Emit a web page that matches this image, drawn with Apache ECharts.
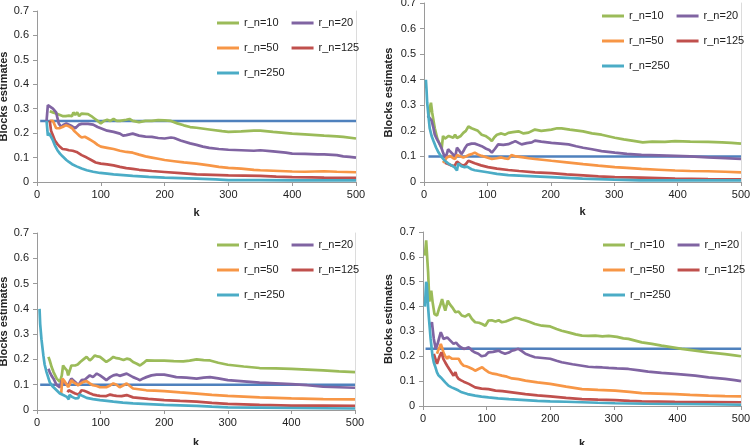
<!DOCTYPE html>
<html>
<head>
<meta charset="utf-8">
<title>Blocks estimates</title>
<script src="https://cdn.jsdelivr.net/npm/echarts@6/dist/echarts.min.js"></script>
<style>
  html, body { margin: 0; padding: 0; background: #fff; }
  #chart { width: 750px; height: 445px; }
</style>
</head>
<body>
<div id="chart"></div>
<script>
// four panels, each: [k, estimate] pairs

const seriesNames = ['r_n=10', 'r_n=20', 'r_n=50', 'r_n=125', 'r_n=250'];
const xTicks = [0, 100, 200, 300, 400, 500];
const yTicks = [0, 0.1, 0.2, 0.3, 0.4, 0.5, 0.6, 0.7];

// horizontal reference line of each panel
const trueLevel = [0.25, 0.1, 0.1, 0.23];
const trueStartK = [5, 7, 5, 4];
const trueEndK = 500;

// --- panel 1 (top left)
const p1_rn10 = [[20,0.29],[25,0.285],[30,0.28],[35,0.275],[40,0.27],[45,0.27],[50,0.272],[55,0.27],[57,0.285],[60,0.275],[63,0.285],[66,0.27],[70,0.28],[80,0.278],[85,0.27],[90,0.26],[95,0.25],[100,0.24],[105,0.25],[110,0.255],[115,0.25],[120,0.258],[125,0.25],[130,0.25],[140,0.255],[145,0.258],[150,0.25],[160,0.245],[170,0.25],[180,0.25],[190,0.253],[200,0.252],[210,0.25],[220,0.24],[230,0.232],[240,0.225],[250,0.222],[270,0.215],[290,0.208],[300,0.205],[320,0.207],[340,0.21],[350,0.21],[370,0.205],[400,0.198],[420,0.195],[450,0.19],[470,0.187],[480,0.185],[500,0.178]];
const p1_rn20 = [[15,0.25],[17,0.315],[20,0.31],[25,0.3],[30,0.285],[32,0.28],[34,0.24],[38,0.225],[42,0.235],[46,0.24],[50,0.235],[55,0.228],[60,0.22],[63,0.218],[66,0.235],[70,0.238],[80,0.238],[88,0.235],[95,0.225],[100,0.22],[110,0.21],[120,0.205],[130,0.198],[135,0.19],[140,0.192],[150,0.198],[160,0.19],[170,0.186],[180,0.185],[190,0.18],[200,0.178],[210,0.182],[215,0.18],[225,0.17],[240,0.158],[250,0.152],[260,0.145],[270,0.14],[285,0.135],[300,0.132],[320,0.13],[340,0.128],[350,0.13],[370,0.125],[390,0.12],[400,0.116],[420,0.115],[440,0.113],[450,0.113],[470,0.11],[480,0.105],[490,0.103],[500,0.1]];
const p1_rn50 = [[20,0.25],[25,0.25],[28,0.25],[30,0.22],[35,0.22],[40,0.225],[45,0.232],[50,0.228],[55,0.22],[58,0.21],[62,0.2],[66,0.19],[70,0.182],[75,0.185],[80,0.178],[85,0.17],[90,0.162],[95,0.152],[100,0.145],[110,0.14],[120,0.135],[130,0.128],[140,0.123],[150,0.12],[160,0.112],[170,0.105],[180,0.1],[190,0.095],[200,0.09],[215,0.085],[230,0.08],[250,0.075],[270,0.068],[285,0.062],[300,0.058],[320,0.055],[340,0.05],[350,0.048],[370,0.046],[400,0.043],[420,0.042],[450,0.044],[470,0.042],[500,0.04]];
const p1_rn125 = [[20,0.25],[22,0.21],[25,0.19],[28,0.17],[32,0.155],[36,0.144],[40,0.135],[43,0.14],[46,0.133],[50,0.13],[52,0.137],[56,0.128],[62,0.123],[70,0.11],[78,0.1],[85,0.09],[92,0.08],[100,0.075],[110,0.072],[120,0.068],[130,0.062],[140,0.057],[150,0.054],[160,0.05],[180,0.045],[200,0.041],[225,0.036],[250,0.031],[275,0.029],[300,0.027],[325,0.026],[350,0.025],[375,0.022],[400,0.02],[430,0.019],[450,0.018],[500,0.017]];
const p1_rn250 = [[15,0.25],[17,0.19],[19,0.2],[21,0.19],[23,0.195],[25,0.17],[28,0.15],[32,0.13],[36,0.116],[40,0.105],[46,0.09],[50,0.082],[55,0.073],[62,0.064],[70,0.055],[78,0.048],[88,0.042],[99,0.037],[110,0.034],[120,0.031],[135,0.028],[150,0.025],[175,0.021],[200,0.018],[225,0.016],[250,0.014],[280,0.011],[300,0.008],[350,0.008],[400,0.007],[450,0.007],[500,0.007]];

// --- panel 2 (top right)
const p2_rn10 = [[7,0.25],[9,0.29],[11,0.31],[13,0.27],[15,0.24],[17,0.21],[21,0.17],[25,0.147],[28,0.134],[30,0.18],[33,0.17],[36,0.166],[39,0.18],[42,0.175],[46,0.173],[49,0.185],[52,0.172],[54,0.166],[58,0.18],[62,0.192],[66,0.2],[70,0.217],[75,0.21],[80,0.205],[85,0.2],[91,0.185],[97,0.18],[103,0.17],[107,0.16],[111,0.175],[115,0.185],[122,0.19],[128,0.185],[133,0.192],[140,0.195],[149,0.198],[157,0.19],[165,0.193],[175,0.205],[185,0.2],[201,0.205],[210,0.21],[217,0.21],[230,0.205],[251,0.198],[265,0.19],[280,0.185],[301,0.173],[315,0.167],[333,0.16],[345,0.155],[360,0.158],[380,0.157],[396,0.16],[420,0.158],[448,0.157],[470,0.155],[485,0.153],[500,0.15]];
const p2_rn20 = [[6,0.26],[9,0.25],[12,0.24],[15,0.21],[17,0.185],[21,0.165],[25,0.147],[28,0.13],[30,0.115],[33,0.096],[36,0.11],[38,0.128],[41,0.12],[44,0.115],[47,0.105],[49,0.096],[52,0.134],[55,0.125],[59,0.109],[62,0.12],[65,0.134],[68,0.145],[70,0.147],[75,0.15],[80,0.15],[86,0.145],[91,0.14],[98,0.13],[103,0.125],[107,0.115],[112,0.13],[117,0.147],[125,0.145],[133,0.148],[140,0.155],[144,0.16],[150,0.152],[154,0.147],[162,0.152],[170,0.155],[175,0.162],[185,0.158],[201,0.153],[215,0.15],[228,0.147],[240,0.14],[251,0.134],[265,0.128],[280,0.121],[301,0.115],[320,0.11],[343,0.106],[370,0.104],[396,0.102],[420,0.1],[448,0.096],[475,0.093],[500,0.09]];
const p2_rn50 = [[30,0.075],[33,0.085],[36,0.096],[41,0.102],[45,0.095],[49,0.09],[52,0.105],[54,0.109],[58,0.1],[62,0.096],[66,0.1],[70,0.105],[75,0.109],[80,0.115],[85,0.108],[91,0.102],[97,0.098],[102,0.094],[107,0.09],[115,0.093],[122,0.096],[128,0.092],[133,0.09],[138,0.105],[145,0.1],[154,0.097],[165,0.093],[175,0.09],[190,0.086],[201,0.083],[225,0.077],[251,0.07],[275,0.064],[301,0.058],[320,0.055],[343,0.051],[370,0.048],[396,0.045],[420,0.043],[448,0.042],[475,0.04],[500,0.038]];
const p2_rn125 = [[33,0.075],[38,0.07],[44,0.064],[48,0.062],[52,0.08],[55,0.075],[57,0.07],[62,0.064],[66,0.07],[70,0.083],[75,0.078],[80,0.073],[90,0.065],[101,0.058],[115,0.052],[133,0.047],[150,0.043],[175,0.038],[201,0.035],[225,0.03],[251,0.026],[275,0.022],[301,0.019],[343,0.017],[370,0.015],[396,0.013],[448,0.011],[500,0.01]];
const p2_rn250 = [[3,0.40],[4,0.36],[5,0.31],[7,0.26],[9,0.21],[12,0.18],[15,0.16],[19,0.135],[23,0.115],[28,0.097],[33,0.083],[38,0.073],[44,0.064],[48,0.058],[52,0.045],[53,0.04],[54,0.072],[56,0.07],[59,0.062],[64,0.058],[68,0.06],[70,0.055],[75,0.05],[80,0.046],[90,0.042],[100,0.038],[115,0.032],[133,0.027],[150,0.025],[175,0.022],[200,0.019],[225,0.016],[250,0.013],[275,0.011],[300,0.009],[340,0.006],[400,0.006],[450,0.006],[500,0.006]];

// --- panel 3 (bottom left)
const p3_rn10 = [[18,0.21],[20,0.196],[23,0.17],[26,0.15],[31,0.124],[36,0.111],[39,0.137],[41,0.176],[44,0.165],[47,0.157],[49,0.137],[52,0.16],[54,0.176],[57,0.17],[60,0.176],[64,0.18],[68,0.19],[73,0.2],[78,0.21],[83,0.196],[87,0.205],[91,0.216],[95,0.212],[99,0.21],[104,0.2],[109,0.19],[114,0.198],[120,0.21],[125,0.205],[130,0.203],[136,0.198],[141,0.203],[146,0.2],[151,0.19],[157,0.183],[162,0.176],[167,0.185],[172,0.196],[185,0.195],[200,0.195],[215,0.193],[230,0.192],[240,0.195],[251,0.2],[262,0.197],[272,0.196],[285,0.187],[300,0.179],[325,0.172],[350,0.166],[375,0.165],[400,0.163],[425,0.16],[450,0.157],[475,0.153],[500,0.15]];
const p3_rn20 = [[18,0.163],[20,0.15],[23,0.135],[26,0.124],[31,0.098],[36,0.09],[39,0.118],[42,0.112],[44,0.105],[49,0.098],[52,0.115],[54,0.124],[57,0.118],[60,0.111],[65,0.098],[70,0.118],[75,0.12],[78,0.124],[83,0.137],[88,0.13],[94,0.144],[99,0.137],[104,0.128],[109,0.118],[115,0.13],[120,0.137],[125,0.14],[130,0.135],[136,0.14],[141,0.144],[146,0.137],[151,0.13],[157,0.124],[162,0.118],[167,0.125],[172,0.13],[180,0.137],[188,0.14],[200,0.14],[210,0.135],[219,0.13],[235,0.128],[251,0.124],[262,0.128],[272,0.13],[285,0.125],[300,0.118],[325,0.113],[350,0.108],[375,0.105],[400,0.102],[425,0.098],[450,0.092],[475,0.09],[500,0.088]];
const p3_rn50 = [[38,0.065],[39,0.06],[40,0.124],[42,0.118],[44,0.111],[47,0.1],[49,0.09],[52,0.105],[54,0.118],[57,0.11],[60,0.105],[65,0.098],[69,0.105],[73,0.111],[78,0.114],[83,0.105],[88,0.098],[94,0.095],[99,0.09],[109,0.09],[115,0.097],[120,0.105],[125,0.1],[130,0.09],[136,0.098],[141,0.105],[146,0.095],[151,0.085],[160,0.082],[172,0.078],[185,0.077],[200,0.075],[225,0.07],[251,0.065],[275,0.06],[300,0.056],[325,0.053],[350,0.05],[375,0.048],[400,0.046],[450,0.043],[500,0.042]];
const p3_rn125 = [[48,0.07],[50,0.078],[52,0.078],[56,0.07],[60,0.065],[65,0.061],[68,0.07],[70,0.078],[74,0.076],[78,0.072],[83,0.066],[88,0.061],[94,0.058],[99,0.056],[109,0.055],[115,0.061],[120,0.058],[125,0.056],[133,0.055],[141,0.059],[151,0.05],[175,0.044],[200,0.039],[225,0.036],[251,0.033],[275,0.028],[300,0.024],[325,0.022],[350,0.02],[400,0.017],[450,0.017],[500,0.016]];
const p3_rn250 = [[4,0.4],[5,0.34],[7,0.28],[10,0.216],[12,0.18],[15,0.15],[20,0.11],[24,0.095],[28,0.085],[32,0.075],[36,0.065],[42,0.058],[47,0.052],[50,0.042],[51,0.06],[55,0.052],[60,0.046],[65,0.047],[67,0.062],[72,0.055],[78,0.048],[88,0.043],[99,0.039],[110,0.036],[120,0.033],[135,0.029],[151,0.026],[175,0.023],[200,0.02],[225,0.018],[251,0.016],[275,0.013],[300,0.01],[350,0.009],[400,0.008],[450,0.007],[500,0.006]];

// --- panel 4 (bottom right)
const p4_rn10 = [[3,0.605],[5,0.666],[7,0.58],[8,0.54],[10,0.42],[12,0.45],[13,0.464],[15,0.42],[18,0.37],[22,0.364],[25,0.39],[27,0.404],[30,0.43],[33,0.4],[35,0.384],[39,0.424],[42,0.41],[46,0.397],[51,0.377],[56,0.38],[61,0.364],[66,0.36],[72,0.37],[77,0.35],[82,0.337],[88,0.335],[93,0.33],[98,0.323],[103,0.344],[108,0.345],[114,0.34],[119,0.345],[124,0.337],[130,0.34],[135,0.345],[140,0.35],[145,0.355],[150,0.353],[155,0.348],[161,0.344],[168,0.338],[176,0.33],[187,0.323],[200,0.32],[210,0.31],[218,0.303],[230,0.295],[240,0.288],[250,0.283],[260,0.282],[271,0.283],[282,0.28],[292,0.282],[305,0.278],[315,0.272],[323,0.27],[335,0.262],[344,0.256],[360,0.25],[375,0.243],[390,0.237],[407,0.23],[428,0.223],[449,0.216],[475,0.209],[490,0.204],[500,0.2]];
const p4_rn20 = [[12,0.323],[14,0.337],[17,0.27],[20,0.23],[23,0.25],[25,0.27],[28,0.297],[30,0.285],[32,0.27],[35,0.265],[38,0.276],[43,0.263],[48,0.25],[52,0.255],[56,0.243],[60,0.235],[64,0.23],[68,0.232],[72,0.236],[77,0.223],[82,0.215],[87,0.21],[92,0.2],[98,0.203],[103,0.216],[110,0.218],[119,0.223],[124,0.215],[129,0.21],[135,0.215],[140,0.223],[145,0.226],[150,0.23],[156,0.22],[161,0.21],[168,0.203],[176,0.196],[188,0.193],[200,0.19],[210,0.182],[218,0.176],[235,0.168],[250,0.162],[260,0.158],[271,0.156],[282,0.155],[292,0.153],[305,0.151],[323,0.149],[340,0.143],[354,0.138],[375,0.133],[396,0.129],[410,0.126],[428,0.122],[449,0.115],[475,0.109],[490,0.104],[500,0.1]];
const p4_rn50 = [[22,0.21],[24,0.225],[26,0.236],[28,0.25],[30,0.235],[32,0.216],[35,0.2],[38,0.19],[40,0.2],[43,0.203],[46,0.19],[48,0.183],[52,0.19],[56,0.19],[60,0.172],[64,0.162],[68,0.16],[72,0.156],[77,0.15],[82,0.142],[88,0.15],[93,0.156],[98,0.145],[103,0.136],[110,0.13],[117,0.127],[124,0.122],[132,0.118],[140,0.111],[150,0.108],[161,0.102],[180,0.095],[200,0.089],[225,0.078],[250,0.068],[275,0.065],[302,0.062],[325,0.057],[344,0.052],[370,0.05],[396,0.048],[420,0.045],[449,0.042],[475,0.04],[500,0.039]];
const p4_rn125 = [[17,0.21],[20,0.203],[22,0.17],[24,0.185],[26,0.2],[29,0.216],[32,0.19],[35,0.175],[38,0.162],[43,0.142],[48,0.122],[51,0.136],[53,0.12],[56,0.109],[60,0.103],[64,0.098],[72,0.089],[77,0.082],[82,0.075],[92,0.07],[103,0.068],[114,0.062],[125,0.06],[140,0.055],[161,0.048],[180,0.043],[200,0.039],[225,0.033],[250,0.028],[275,0.026],[302,0.024],[325,0.021],[344,0.019],[396,0.017],[450,0.016],[500,0.015]];
const p4_rn250 = [[3,0.4],[4,0.45],[5,0.5],[6,0.49],[8,0.4],[9,0.364],[12,0.27],[15,0.2],[17,0.175],[19,0.16],[22,0.135],[24,0.125],[26,0.13],[28,0.115],[30,0.109],[35,0.095],[40,0.082],[45,0.075],[51,0.068],[56,0.062],[61,0.055],[70,0.048],[82,0.042],[92,0.038],[103,0.035],[118,0.031],[135,0.028],[161,0.024],[180,0.021],[200,0.019],[225,0.017],[250,0.015],[275,0.013],[302,0.011],[350,0.009],[400,0.008],[450,0.007],[500,0.005]];

const panels = [
  [p1_rn10, p1_rn20, p1_rn50, p1_rn125, p1_rn250],
  [p2_rn10, p2_rn20, p2_rn50, p2_rn125, p2_rn250],
  [p3_rn10, p3_rn20, p3_rn50, p3_rn125, p3_rn250],
  [p4_rn10, p4_rn20, p4_rn50, p4_rn125, p4_rn250]
];

const colors = ['#9BBB59', '#8064A2', '#F79646', '#C0504D', '#4BACC6'];
const trueColor = '#4F81BD';
const font = 'Liberation Sans, Arial, sans-serif';
const axisGray = '#9a9a9a';

// layout of the 2x2 panels (px); names may run past the edge like the original
const grids = [
  { left: 37, right: 394, top: 11, bottom: 263, outerBoundsMode: 'none' },
  { left: 424, right: 9, top: 3, bottom: 263, outerBoundsMode: 'none' },
  { left: 37, right: 395, top: 233, bottom: 35, outerBoundsMode: 'none' },
  { left: 423, right: 9, top: 232, bottom: 39, outerBoundsMode: 'none' }
];
const yNameGap = [25, 30, 26, 29];
const xNameGap = [25, 24, 27, 32];
const legendPos = [
  { left: 217, top: 17 },
  { left: 602, top: 10 },
  { left: 217, top: 239 },
  { left: 603, top: 239 }
];

const chart = echarts.init(document.getElementById('chart'));

const xAxes = [], yAxes = [], series = [], legends = [];
grids.forEach((g, i) => {
  xAxes.push({
    gridIndex: i, type: 'value', min: xTicks[0], max: xTicks[xTicks.length - 1],
    interval: xTicks[1] - xTicks[0],
    name: 'k', nameLocation: 'middle', nameGap: xNameGap[i],
    nameTextStyle: { fontFamily: font, fontSize: 11, fontWeight: 'bold', color: '#222' },
    axisLine: { lineStyle: { color: axisGray, width: 1 } },
    axisTick: { show: true, length: 4, lineStyle: { color: axisGray } },
    axisLabel: { fontFamily: font, fontSize: 11, color: '#222', margin: 7 },
    splitLine: { show: false }
  });
  yAxes.push({
    gridIndex: i, type: 'value', min: yTicks[0], max: yTicks[yTicks.length - 1],
    interval: 0.1,
    name: 'Blocks estimates', nameLocation: 'middle', nameGap: yNameGap[i],
    nameTextStyle: { fontFamily: font, fontSize: 11, fontWeight: 'bold', color: '#222' },
    axisLine: { show: true, lineStyle: { color: axisGray, width: 1 } },
    axisTick: { show: true, length: 4, lineStyle: { color: axisGray } },
    axisLabel: { fontFamily: font, fontSize: 11, color: '#222', margin: 8 },
    splitLine: { show: false }
  });
  // faint border on the right of each plot
  yAxes.push({
    gridIndex: i, type: 'value', position: 'right', min: 0, max: 0.7,
    axisLine: { show: true, lineStyle: { color: '#dcdcdc', width: 1 } },
    axisTick: { show: false }, axisLabel: { show: false }, splitLine: { show: false }
  });

  series.push({
    name: 'true', type: 'line', xAxisIndex: i, yAxisIndex: i * 2,
    data: [[trueStartK[i], trueLevel[i]], [trueEndK, trueLevel[i]]],
    symbol: 'none', lineStyle: { color: trueColor, width: 2.5 }, z: 1,
    silent: true
  });
  panels[i].forEach((pts, s) => {
    series.push({
      name: seriesNames[s], type: 'line', xAxisIndex: i, yAxisIndex: i * 2,
      data: pts, symbol: 'none', color: colors[s],
      lineStyle: { color: colors[s], width: 2.7 }, z: 2 + s
    });
  });

  legends.push({
    data: seriesNames, left: legendPos[i].left, top: legendPos[i].top,
    width: 150, orient: 'horizontal', padding: 0,
    itemGap: 13, itemWidth: 22, itemHeight: 3, icon: 'rect',
    textStyle: { fontFamily: font, fontSize: 11, color: '#222', lineHeight: 12 },
    selectedMode: false
  });
});

chart.setOption({
  animation: false,
  backgroundColor: '#fff',
  grid: grids,
  xAxis: xAxes,
  yAxis: yAxes,
  legend: legends,
  series: series
});
</script>
</body>
</html>
